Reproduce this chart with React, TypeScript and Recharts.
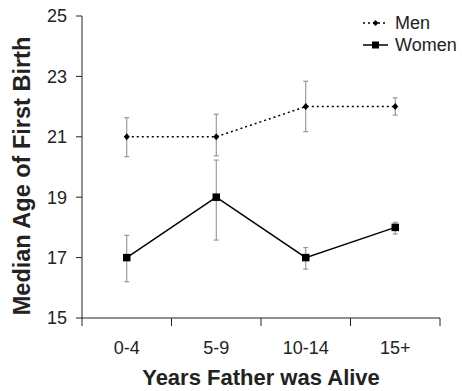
import { LineChart, Line, XAxis, YAxis, ErrorBar } from "recharts"

const categories = ["0-4", "5-9", "10-14", "15+"]
const men = [21, 21, 22, 22]
const menErr: [number, number][] = [[0.66, 0.63], [0.63, 0.75], [0.83, 0.84], [0.28, 0.29]]
const women = [17, 19, 17, 18]
const womenErr: [number, number][] = [[0.8, 0.74], [1.42, 1.23], [0.38, 0.33], [0.22, 0.17]]
const yTicks = [15, 17, 19, 21, 23, 25]

const data = categories.map((c, i) => ({
  pos: i + 0.5,
  label: c,
  men: men[i],
  menErr: menErr[i],
  women: women[i],
  womenErr: womenErr[i],
}))

// boundary ticks on integers, labels at band centres
const xTicks = [0, 0.5, 1, 1.5, 2, 2.5, 3, 3.5, 4]

const FONT = "'Liberation Sans', Arial, sans-serif"
const INK = "#222"

function XTick({ x, y, payload }: any) {
  const v = payload.value as number
  if (Number.isInteger(v)) {
    return <line x1={x} x2={x} y1={y - 8} y2={y} stroke={INK} strokeWidth={1} />
  }
  return (
    <text x={x} y={y + 28} textAnchor="middle" fontSize={18} fontFamily={FONT} fill={INK}>
      {categories[Math.floor(v)]}
    </text>
  )
}

function Diamond({ cx, cy, index }: any) {
  if (cx == null || cy == null) return null
  return <path key={"m" + index} d={`M${cx},${cy - 3.5}L${cx + 3},${cy}L${cx},${cy + 3.5}L${cx - 3},${cy}Z`} fill="#000" />
}

function Square({ cx, cy, index }: any) {
  if (cx == null || cy == null) return null
  return <rect key={"w" + index} x={cx - 3.75} y={cy - 3.75} width={7.5} height={7.5} fill="#000" />
}

const legendItems = [
  { name: "Men", dash: "2 3", marker: "diamond" },
  { name: "Women", dash: undefined, marker: "square" },
]

function LegendBox() {
  return (
    <div
      style={{
        position: "absolute",
        left: 361,
        top: 12,
        fontFamily: FONT,
        fontSize: 18,
        color: INK,
        lineHeight: "22px",
      }}
    >
      {legendItems.map((it) => (
        <div key={it.name} style={{ display: "flex", alignItems: "center", height: 22 }}>
          <svg width={30} height={22} style={{ display: "block" }}>
            <line x1={2} x2={27} y1={11} y2={11} stroke="#000" strokeWidth={1.5} strokeDasharray={it.dash} />
            {it.marker === "diamond" ? (
              <path d="M14.5,8L17.5,11L14.5,14L11.5,11Z" fill="#000" />
            ) : (
              <rect x={11} y={7.5} width={7} height={7} fill="#000" />
            )}
          </svg>
          <span style={{ marginLeft: 4 }}>{it.name}</span>
        </div>
      ))}
    </div>
  )
}

export default function App() {
  return (
    <div style={{ position: "absolute", left: 0, top: 0, width: 462, height: 391, background: "#fff" }}>
      <LineChart width={462} height={391} data={data} margin={{ top: 16, right: 22, bottom: 43, left: 0 }}>
        <XAxis
          dataKey="pos"
          type="number"
          domain={[0, 4]}
          ticks={xTicks}
          interval={0}
          tick={<XTick />}
          tickLine={false}
          tickSize={8}
          tickMargin={0}
          height={30}
          axisLine={{ stroke: INK, strokeWidth: 1 }}
          label={{
            content: () => (
              <text x={261} y={385} textAnchor="middle" fontSize={22} fontWeight="bold" fontFamily={FONT} fill={INK}>
                Years Father was Alive
              </text>
            ),
          }}
        />
        <YAxis
          domain={[15, 25]}
          ticks={yTicks}
          interval={0}
          width={82}
          tickSize={6}
          tickMargin={9}
          tick={{ fontSize: 18, fontFamily: FONT, fill: INK }}
          tickLine={{ stroke: INK }}
          axisLine={{ stroke: INK, strokeWidth: 1 }}
          label={{
            content: () => (
              <text
                x={30}
                y={176}
                transform="rotate(-90,30,176)"
                textAnchor="middle"
                fontSize={23.5}
                fontWeight="bold"
                fontFamily={FONT}
                fill={INK}
              >
                Median Age of First Birth
              </text>
            ),
          }}
        />
        <Line
          dataKey="men"
          name="Men"
          stroke="#000"
          strokeWidth={1.5}
          strokeDasharray="2 3"
          dot={<Diamond />}
          activeDot={false}
          isAnimationActive={false}
        >
          <ErrorBar dataKey="menErr" width={2.5} stroke="#888" strokeWidth={1} direction="y" />
        </Line>
        <Line
          dataKey="women"
          name="Women"
          stroke="#000"
          strokeWidth={1.5}
          dot={<Square />}
          activeDot={false}
          isAnimationActive={false}
        >
          <ErrorBar dataKey="womenErr" width={2.5} stroke="#888" strokeWidth={1} direction="y" />
        </Line>
      </LineChart>
      <LegendBox />
    </div>
  )
}
